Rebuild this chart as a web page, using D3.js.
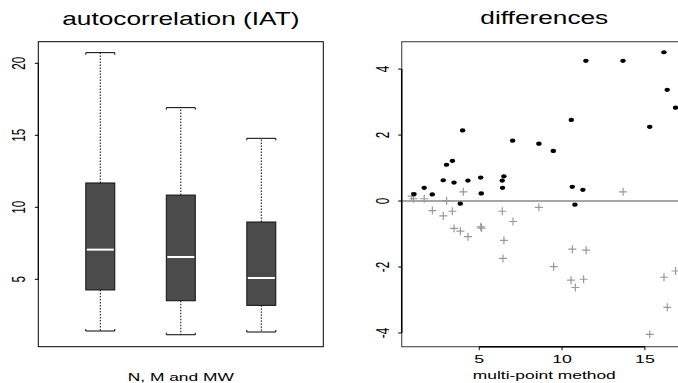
<!DOCTYPE html>
<html>
<head>
<meta charset="utf-8">
<script src="https://cdn.jsdelivr.net/npm/d3@7"></script>
<style>
  html, body { margin: 0; padding: 0; background: #fff; }
  svg { display: block; }
  text { font-family: "Liberation Sans", Arial, Helvetica, sans-serif; fill: #000; }
</style>
</head>
<body>
<svg id="chart" width="678" height="383"></svg>
<script>
// ---------- data ----------
const boxCategories = ["N", "M", "MW"];
const whiskerLow  = [1.41, 1.15, 1.34];
const q1          = [4.26, 3.51, 3.19];
const medians     = [7.06, 6.55, 5.09];
const q3          = [11.69, 10.85, 8.98];
const whiskerHigh = [20.74, 16.92, 14.79];
const leftYTicks  = [5, 10, 15, 20];

const dotX = [1.06, 1.68, 2.17, 2.83, 3.03, 3.38, 3.48, 3.86, 4.00, 4.32, 5.09, 5.12, 6.39, 6.41, 6.49, 7.02, 8.60, 9.47, 10.56, 10.62, 10.78, 11.26, 11.44, 13.68, 15.29, 16.15, 16.35, 16.85];
const dotY = [0.21, 0.40, 0.20, 0.63, 1.10, 1.22, 0.56, -0.08, 2.14, 0.62, 0.71, 0.23, 0.62, 0.40, 0.75, 1.83, 1.74, 1.52, 2.46, 0.43, -0.11, 0.34, 4.25, 4.25, 2.25, 4.51, 3.37, 2.83];

const plusX = [0.92, 1.03, 1.68, 2.17, 2.83, 3.03, 3.38, 3.48, 3.86, 4.04, 4.32, 5.09, 5.14, 6.39, 6.43, 6.49, 7.04, 8.60, 9.49, 10.54, 10.62, 10.80, 11.30, 11.45, 13.68, 15.29, 16.15, 16.35, 16.85];
const plusY = [0.15, 0.07, 0.07, -0.29, -0.45, 0.01, -0.31, -0.83, -0.91, 0.28, -1.08, -0.78, -0.82, -0.31, -1.74, -1.19, -0.62, -0.19, -1.99, -2.40, -1.46, -2.62, -2.37, -1.49, 0.28, -4.04, -2.31, -3.22, -2.12];

const rightXTicks = [5, 10, 15];
const rightYTicks = [-4, -2, 0, 2, 4];

// ---------- setup ----------
const svg = d3.select("#chart");
const SX = 1.5;           // horizontal glyph stretch seen in the reference
const tickFont = 11.8;
const labFont = 11.6;
const titleFont = 17.5;

function hText(x, y, str, size, anchor = "middle") {
  svg.append("text")
    .attr("transform", `translate(${x},${y}) scale(${SX},1)`)
    .attr("text-anchor", anchor)
    .style("font-size", size + "px")
    .text(str);
}
function vText(x, y, str, size) {
  svg.append("text")
    .attr("transform", `translate(${x},${y}) scale(${SX},1) rotate(-90)`)
    .attr("text-anchor", "middle")
    .attr("dy", "0.35em")
    .style("font-size", size + "px")
    .text(str);
}

// ---------- left panel: boxplots ----------
const L = { x0: 38.3, x1: 323.3, y0: 41.7, y1: 346.7 };
const lx = d3.scaleLinear().domain([0.23, 3.77]).range([L.x0, L.x1]);
const ly = d3.scaleLinear().domain([0.32, 21.5]).range([L.y1, L.y0]);
const boxW = lx(1.18) - lx(1);

boxCategories.forEach((c, i) => {
  const cx = lx(i + 1);
  const g = svg.append("g");
  g.append("line").attr("x1", cx).attr("x2", cx)
    .attr("y1", ly(q3[i])).attr("y2", ly(whiskerHigh[i]))
    .attr("stroke", "#000").attr("stroke-width", 1).attr("stroke-dasharray", "1.5,1.5");
  g.append("line").attr("x1", cx).attr("x2", cx)
    .attr("y1", ly(q1[i])).attr("y2", ly(whiskerLow[i]))
    .attr("stroke", "#000").attr("stroke-width", 1).attr("stroke-dasharray", "1.5,1.5");
  const yh = ly(whiskerHigh[i]), yl = ly(whiskerLow[i]);
  g.append("path")
    .attr("d", `M${cx - boxW},${yh + 2}V${yh}H${cx + boxW}V${yh + 2}`)
    .attr("fill", "none").attr("stroke", "#000").attr("stroke-width", 1);
  g.append("path")
    .attr("d", `M${cx - boxW},${yl - 2}V${yl}H${cx + boxW}V${yl - 2}`)
    .attr("fill", "none").attr("stroke", "#000").attr("stroke-width", 1);
  g.append("rect")
    .attr("x", cx - boxW).attr("width", 2 * boxW)
    .attr("y", ly(q3[i])).attr("height", ly(q1[i]) - ly(q3[i]))
    .attr("fill", "#4b4b4b").attr("stroke", "#111").attr("stroke-width", 1);
  g.append("line")
    .attr("x1", cx - boxW + 1).attr("x2", cx + boxW - 1)
    .attr("y1", ly(medians[i])).attr("y2", ly(medians[i]))
    .attr("stroke", "#fff").attr("stroke-width", 2);
});

svg.append("rect").attr("x", L.x0).attr("y", L.y0)
  .attr("width", L.x1 - L.x0).attr("height", L.y1 - L.y0)
  .attr("fill", "none").attr("stroke", "#000").attr("stroke-width", 1);
svg.append("line").attr("x1", L.x0).attr("x2", L.x0)
  .attr("y1", ly(leftYTicks[0])).attr("y2", ly(leftYTicks[leftYTicks.length - 1]))
  .attr("stroke", "#000").attr("stroke-width", 1);
leftYTicks.forEach(t => {
  svg.append("line").attr("x1", L.x0 - 3.5).attr("x2", L.x0)
    .attr("y1", ly(t)).attr("y2", ly(t)).attr("stroke", "#000").attr("stroke-width", 1);
  vText(L.x0 - 19, ly(t), String(t), tickFont);
});
hText((L.x0 + L.x1) / 2, 25, "autocorrelation (IAT)", titleFont);
hText((L.x0 + L.x1) / 2, 380.5, "N, M and MW", labFont);

// ---------- right panel: differences ----------
const R = { x0: 401.7, x1: 687, y0: 41.7, y1: 346.7 };
const rx = d3.scaleLinear().domain([0.32, 17.54]).range([R.x0, R.x1]);
const ry = d3.scaleLinear().domain([-4.415, 4.83]).range([R.y1, R.y0]);

svg.append("rect").attr("x", R.x0).attr("y", R.y0)
  .attr("width", R.x1 - R.x0).attr("height", R.y1 - R.y0)
  .attr("fill", "none").attr("stroke", "#555").attr("stroke-width", 1.2);
svg.append("line").attr("x1", R.x0).attr("x2", R.x1)
  .attr("y1", ry(0)).attr("y2", ry(0))
  .attr("stroke", "#888").attr("stroke-width", 1.5);

svg.append("line").attr("x1", R.x0).attr("x2", R.x0)
  .attr("y1", ry(rightYTicks[0])).attr("y2", ry(rightYTicks[rightYTicks.length - 1]))
  .attr("stroke", "#000").attr("stroke-width", 1.5);
rightYTicks.forEach(t => {
  svg.append("line").attr("x1", R.x0 - 3.5).attr("x2", R.x0)
    .attr("y1", ry(t)).attr("y2", ry(t)).attr("stroke", "#000").attr("stroke-width", 1);
  vText(R.x0 - 19, ry(t), String(t), tickFont);
});
svg.append("line").attr("x1", rx(rightXTicks[0])).attr("x2", rx(rightXTicks[rightXTicks.length - 1]))
  .attr("y1", R.y1).attr("y2", R.y1)
  .attr("stroke", "#000").attr("stroke-width", 1.5);
rightXTicks.forEach(t => {
  svg.append("line").attr("x1", rx(t)).attr("x2", rx(t))
    .attr("y1", R.y1).attr("y2", R.y1 + 3.5).attr("stroke", "#000").attr("stroke-width", 1);
  hText(rx(t), 363.3, String(t), tickFont);
});

const plusData = plusX.map((x, i) => ({ x, y: plusY[i] }));
svg.append("g").selectAll("path").data(plusData).enter().append("path")
  .attr("d", d => { const X = rx(d.x), Y = ry(d.y), s = 4;
    return `M${X - s},${Y}H${X + s}M${X},${Y - s}V${Y + s}`; })
  .attr("stroke", "#999").attr("stroke-width", 1.2).attr("fill", "none");

const dotData = dotX.map((x, i) => ({ x, y: dotY[i] }));
svg.append("g").selectAll("ellipse").data(dotData).enter().append("ellipse")
  .attr("cx", d => rx(d.x)).attr("cy", d => ry(d.y)).attr("rx", 2.7).attr("ry", 2.1)
  .attr("fill", "#000");

hText(544.3, 24, "differences", titleFont);
hText(544.3, 379.3, "multi-point method", labFont);
</script>
</body>
</html>
